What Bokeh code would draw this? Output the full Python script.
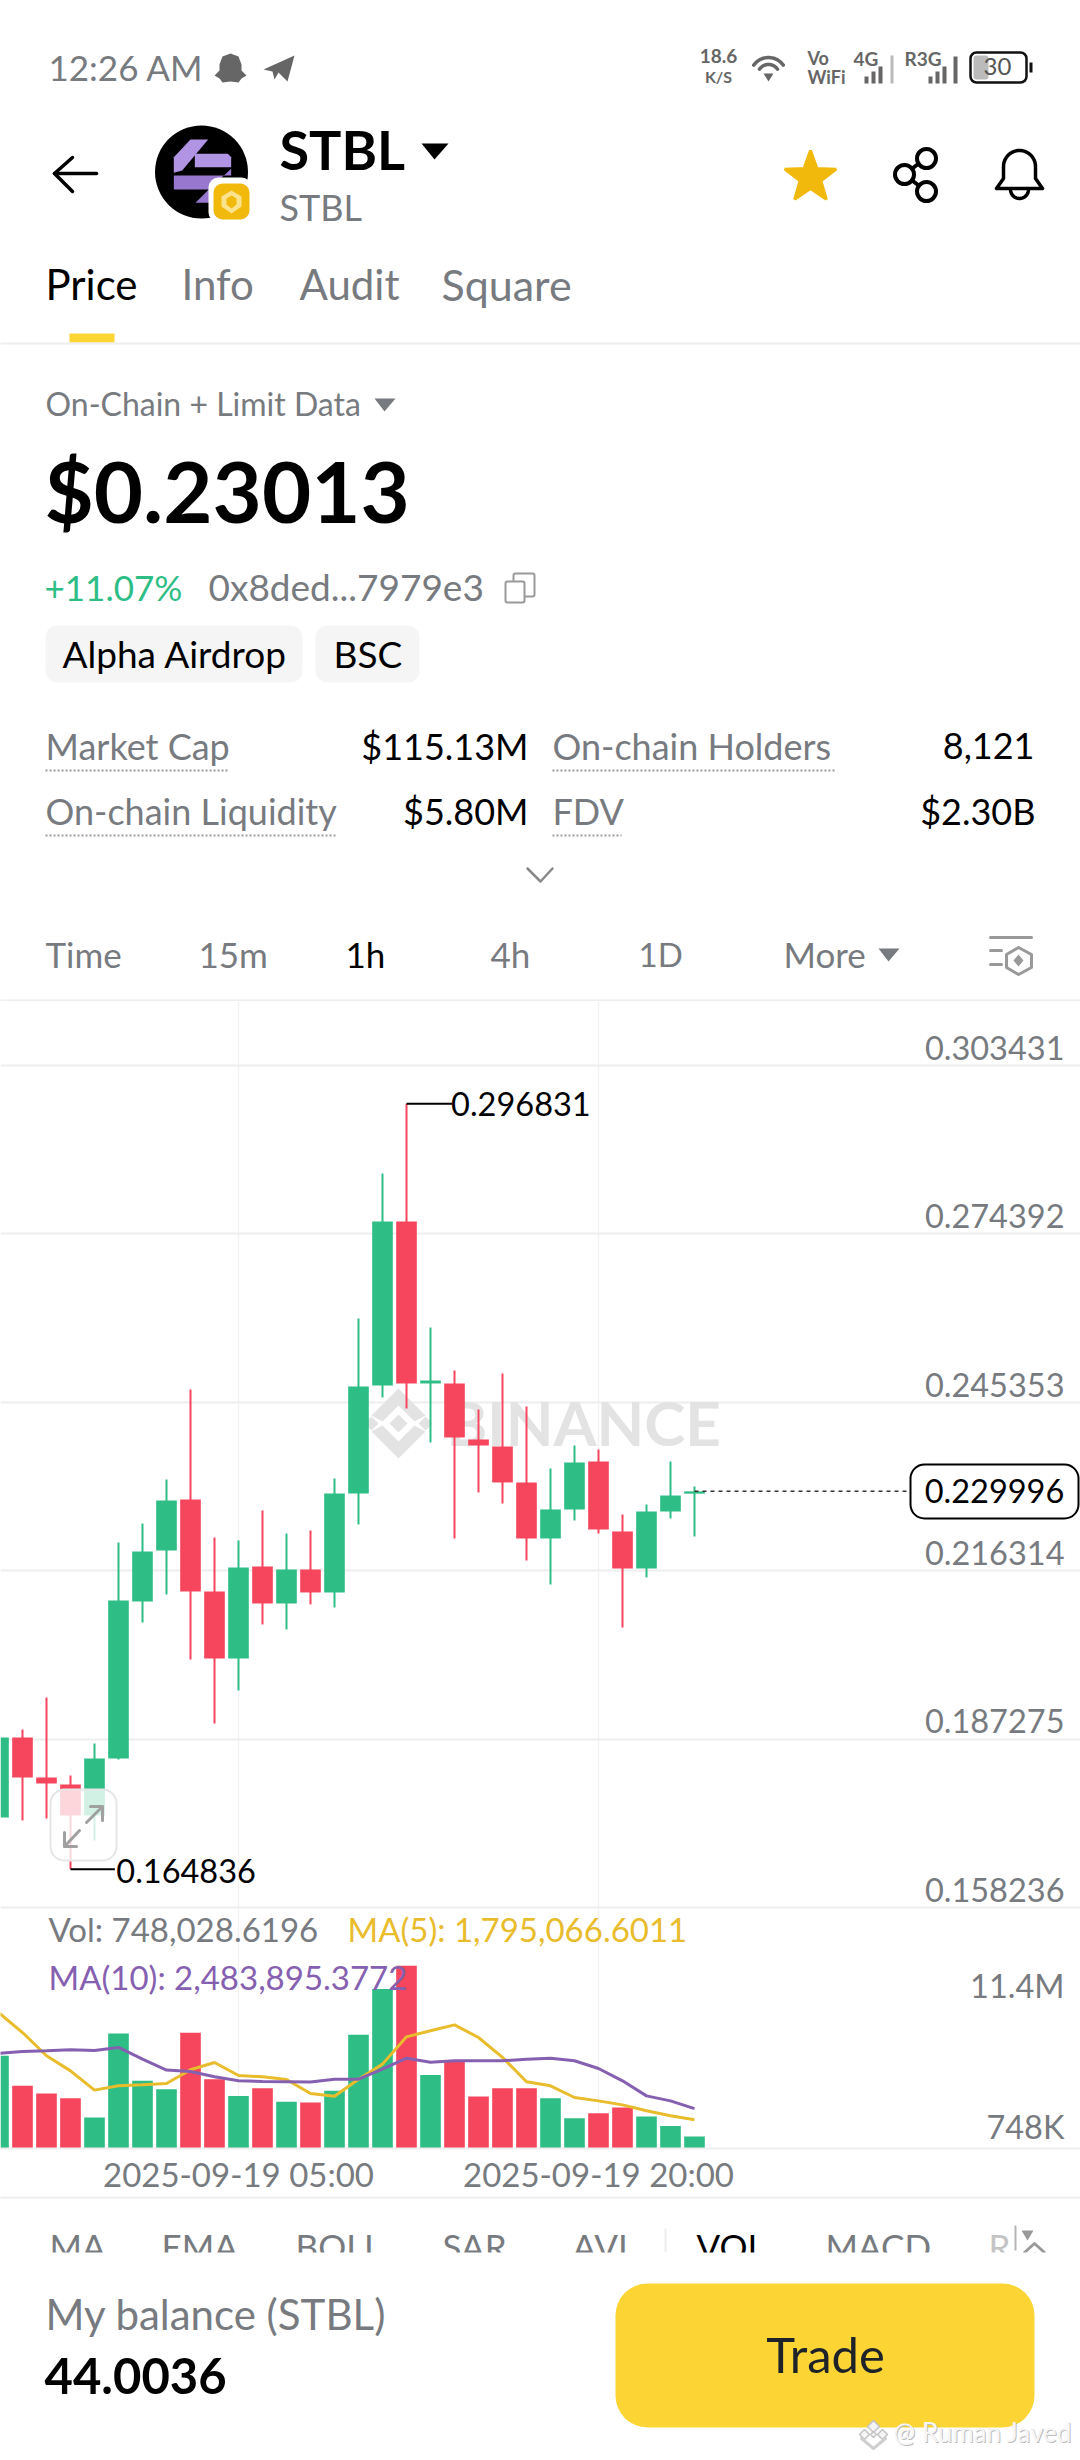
import numpy as np
from bokeh.core.properties import value
from bokeh.embed import file_html
from bokeh.layouts import column
from bokeh.models import FixedTicker, Range1d
from bokeh.plotting import figure
from bokeh.resources import INLINE

# ---------- data ----------
open_ = [.17376,.18755,.18066,.17945,.17410,.18393,.21101,.21980,.22859,.21273,
         .20117,.21704,.21066,.21652,.21256,.22963,.24825,.27653,.24860,.24860,
         .23894,.23773,.23153,.22187,.22687,.23515,.22308,.21669,.22652,.22960]
close = [.18755,.18066,.17962,.17410,.18393,.21118,.21963,.22842,.21273,.20117,
         .21687,.21066,.21652,.21256,.22963,.24808,.27653,.24860,.24911,.23928,
         .23790,.23153,.22187,.22687,.23497,.22342,.21669,.22652,.22928,.229996]
high = [.18755,.18893,.19445,.18100,.18652,.22118,.22446,.23204,.24756,.22204,
        .22152,.22670,.22273,.22325,.23221,.25980,.28481,.296831,.25825,.25084,
        .24411,.25032,.24463,.23394,.23790,.23722,.22601,.22773,.23515,.23084]
low = [.17376,.17324,.17358,.164836,.16979,.18376,.20738,.21221,.20100,.18997,
       .19566,.20704,.20617,.21049,.20997,.22428,.24618,.24428,.23842,.22187,
       .22980,.22790,.21807,.21393,.22497,.22273,.20652,.21515,.22532,.22221]
volume = [5.78,3.91,3.43,3.14,1.93,7.17,4.22,3.70,7.21,4.32,3.28,3.76,2.91,2.87,3.60,
          7.09,9.94,11.40,4.59,5.43,3.24,3.76,3.76,3.14,1.89,2.20,2.56,2.00,1.41,0.748]
ma5 = [8.48,7.23,5.78,4.84,3.64,3.91,3.97,4.05,4.91,5.36,4.55,4.47,4.30,3.43,3.26,
       4.32,5.26,6.96,7.34,7.71,6.92,5.68,4.16,3.91,3.18,2.97,2.72,2.35,2.04,1.795]
ma10 = [5.93,6.05,6.09,6.15,6.11,6.30,5.57,4.89,4.80,4.47,4.22,4.18,4.16,4.14,4.32,
        4.32,4.95,5.63,5.38,5.47,5.47,5.47,5.57,5.63,5.47,4.99,4.22,3.28,2.97,2.484]
price_ticks = [0.303431,0.274392,0.245353,0.216314,0.187275,0.158236]
time_ticks = [10,25]
time_labels = ["2025-09-19 05:00","2025-09-19 20:00"]
last_price = 0.229996

FONT = "Lato"
GREY = "#777b80"
LINE = "#eeeeee"
GREEN = "#2EBD85"
RED = "#F6465D"
YEL = "#FCD535"
GOLD = "#F0B90B"

idx = list(range(len(close)))
colors = [GREEN if c >= o else RED for o, c in zip(open_, close)]


def fig(w, h, xr, yr, **kw):
    p = figure(width=w, height=h, x_range=xr, y_range=yr, tools="", toolbar_location=None,
               output_backend="svg", x_axis_location=kw.pop("xloc", None), y_axis_location=None,
               min_border=0, min_border_left=0, min_border_right=0, min_border_top=0,
               min_border_bottom=kw.pop("mbb", 0), outline_line_color=None,
               background_fill_color="white", border_fill_color="white")
    p.xgrid.grid_line_color = None
    p.ygrid.grid_line_color = None
    return p


def T(p, x, y, s, size, color=GREY, align="left", style="normal", yo=0, xo=0, font=None):
    p.text([x], [y], text=[s], text_font=value(font or FONT), text_font_size=value(f"{size}px"),
           text_color=color, text_align=align, text_baseline="middle",
           text_font_style=style, y_offset=yo - size * 0.05, x_offset=xo)


def poly(p, pts, fill=None, line=None, lw=2, alpha=1.0):
    xs = [a for a, b in pts]
    ys = [b for a, b in pts]
    if fill:
        p.patch(xs, ys, fill_color=fill, fill_alpha=alpha, line_color=line, line_width=lw)
    else:
        p.line(xs, ys, line_color=line, line_width=lw, line_cap="round", line_join="round")


def arc(cx, cy, r, a0, a1, n=24, ry=None):
    ry = ry or r
    t = np.radians(np.linspace(a0, a1, n))
    return list(zip(cx + r*np.cos(t), cy + ry*np.sin(t)))


def box(p, l, r, t, b, fill=None, line=None, lw=2, rad=0, alpha=1.0):
    p.quad(left=[l], right=[r], top=[t], bottom=[b], fill_color=fill, fill_alpha=alpha,
           line_color=line, line_width=lw, border_radius=rad)


# ---------- header ----------
h = fig(1080, 1001, Range1d(0, 1080), Range1d(1001, 0))
T(h, 48, 68, "12:26 AM", 35)
poly(h, [(230,53),(238,56),(241,64),(241,70),(246,75),(241,78),(238,82),(230,81),(222,82),(219,78),(214,75),(219,70),(219,64),(222,56)], fill="#666666")
poly(h, [(263,69),(294,55),(287,81),(278,72),(274,79),(272,71)], fill="#666666")
T(h, 718, 56, "18.6", 19, "#666666", "center", "bold")
T(h, 718, 77, "K/S", 16, "#666666", "center", "bold")
for r, w in [(18, 3.5), (11, 3.5)]:
    poly(h, arc(768, 75, r, 215, 325), line="#666666", lw=w)
poly(h, [(763,73),(773,73),(768,81)], fill="#666666")
T(h, 807, 58, "Vo", 18, "#666666", "left", "bold")
T(h, 807, 77, "WiFi", 18, "#666666", "left", "bold")
T(h, 853, 59, "4G", 19, "#666666", "left", "bold")
for x0, tp in [(864,76),(871,71),(878,66)]:
    box(h, x0, x0+4, tp, 83, fill="#666666")
box(h, 890, 893, 55, 83, fill="#bbbbbb")
T(h, 904, 59, "R3G", 19, "#666666", "left", "bold")
for x0, tp in [(928,76),(935,71),(942,66),(953,56)]:
    box(h, x0, x0+4, tp, 83, fill="#666666")
box(h, 973, 988, 55, 79, fill="#bbbbbb", rad=3)
box(h, 970, 1026, 52, 82, line="#111111", lw=2.5, rad=6)
box(h, 1029, 1032, 62, 72, fill="#111111")
T(h, 997, 67, "30", 24, "#555555", "center")

# navigation row
poly(h, [(96,173),(54,173)], line="black", lw=3.5)
poly(h, [(72,157),(54,173),(72,191)], line="black", lw=3.5)
h.scatter([201],[171.5], marker="circle", size=93, fill_color="black", line_color=None)
S = lambda pts: [(140 + a/3, 115 + b/3) for a, b in pts]
poly(h, S([(150,72),(203,72),(125,165),(100,172),(100,125)]), fill="#B294E4")
poly(h, S([(163,115),(262,115),(272,125),(272,155),(163,155)]), fill="#B294E4")
poly(h, S([(100,180),(272,180),(272,160),(205,222),(100,222)]), fill="#9877CE")
poly(h, S([(165,262),(205,262),(262,205),(222,205)]), fill="#9877CE")
box(h, 208, 251, 177, 222, fill="white", rad=10)
box(h, 213, 249, 183, 219, fill=GOLD, rad=9)
poly(h, [(231,190),(241,196),(241,206),(231,213),(221,206),(221,196)], fill="#FBE38E")
poly(h, [(231,195),(236,198),(236,204),(231,208),(226,204),(226,198)], fill=GOLD)
T(h, 279, 152, "STBL", 54, "black", "left", "bold")
poly(h, [(421,143),(448,143),(434,159)], fill="black")
T(h, 279, 208, "STBL", 36)
# star
star = [(810 + (27 if i % 2 == 0 else 11)*np.sin(np.radians(36*i)),
         177 - (27 if i % 2 == 0 else 11)*np.cos(np.radians(36*i))) for i in range(10)]
poly(h, star, fill=GOLD, line=GOLD, lw=3)
# share
poly(h, [(926,157),(904,174),(926,191)], line="black", lw=4)
for cx, cy in [(926,158),(904,174),(926,191)]:
    h.scatter([cx],[cy], marker="circle", size=19, fill_color="white", line_color="black", line_width=4)
# bell
poly(h, [(996,188)] + [(1003,178)] + arc(1019,166,16,180,360) + [(1035,178),(1042,188),(996,188)], line="black", lw=3.5)
poly(h, arc(1019,189,9,10,170), line="black", lw=3.5)

T(h, 45, 286, "Price", 42, "black", style="normal")
T(h, 181, 286, "Info", 42)
T(h, 299, 286, "Audit", 42)
T(h, 441, 286, "Square", 43)
box(h, 69, 114, 333, 342, fill=YEL)
poly(h, [(0,343),(1080,343)], line=LINE, lw=2)

T(h, 45, 405, "On-Chain + Limit Data", 32)
poly(h, [(374,398),(395,398),(384,411)], fill=GREY)
T(h, 44, 494, "$0.23013", 85, "black", style="bold")
T(h, 44, 588, "+11.07%", 35, GREEN)
T(h, 208, 588, "0x8ded...7979e3", 37)
box(h, 513, 534, 573, 596, line="#999999", lw=2, rad=2)
box(h, 505, 524, 581, 602, fill="white", line="#999999", lw=2, rad=2)
box(h, 45, 302, 625, 682, fill="#F5F5F5", rad=12)
box(h, 315, 419, 625, 682, fill="#F5F5F5", rad=12)
T(h, 62, 655, "Alpha Airdrop", 37, "black")
T(h, 333, 655, "BSC", 37, "black")

for x, y, s, a in [(45,747,"Market Cap","l"),(528,747,"$115.13M","r"),(552,747,"On-chain Holders","l"),(1034,747,"8,121","r"),
                   (45,812,"On-chain Liquidity","l"),(528,812,"$5.80M","r"),(552,812,"FDV","l"),(1035,812,"$2.30B","r")]:
    if a == "l":
        T(h, x, y, s, 36)
    else:
        T(h, x, y, s, 36, "black", "right", "normal")
for x0, x1, y in [(45,227,770),(552,836,770),(45,336,835),(552,621,835)]:
    h.line([x0,x1],[y,y], line_color="#9a9a9a", line_width=2, line_dash="2 2")
poly(h, [(527,868),(540,881),(552,868)], line="#888888", lw=2.5)

for x, s, col, sz in [(45,"Time",GREY,35),(198,"15m",GREY,35),(345,"1h","black",35),(490,"4h",GREY,35),(638,"1D",GREY,33),(783,"More",GREY,35)]:
    T(h, x, 955, s, sz, col)
poly(h, [(878,948),(899,948),(888,961)], fill=GREY)
poly(h, [(990,937),(1031,937)], line="#999999", lw=3)
poly(h, [(990,950),(1001,950)], line="#999999", lw=3)
poly(h, [(990,964),(1001,964)], line="#999999", lw=3)
poly(h, [(1018,947),(1031,954),(1031,967),(1018,974),(1006,967),(1006,954),(1018,947)], line="#999999", lw=3)
poly(h, [(1018,954),(1023,960),(1018,966),(1013,960)], fill="#999999")
poly(h, [(0,1000),(1080,1000)], line=LINE, lw=2)

# ---------- price panel ----------
PX = 5799.0
def Y(py):
    return 0.303431 - (py - 1065) / PX
def X(px):
    return (px + 2) / 24.0

c = fig(1080, 908, Range1d(X(0), X(1080)), Range1d(Y(1909), Y(1001)))
c.ygrid.ticker = FixedTicker(ticks=price_ticks)
c.ygrid.grid_line_color = LINE
c.ygrid.grid_line_width = 2
c.xgrid.ticker = FixedTicker(ticks=time_ticks)
c.xgrid.grid_line_color = "#f2f2f2"
c.xgrid.grid_line_width = 1.5

# watermark, beneath the candles
WM = "#e3e3e3"
lx, ly = 398, 1423
def wm(pts):
    poly(c, [(X(lx + a), Y(ly + b)) for a, b in pts], fill=WM)
wm([(0,-35),(27,-8),(16,-2),(0,-18),(-16,-2),(-27,-8)])
wm([(0,35),(27,8),(16,2),(0,18),(-16,2),(-27,8)])
wm([(0,-9),(9,0),(0,9),(-9,0)])
wm([(-27,-7),(-20,0),(-27,7),(-34,0)])
wm([(27,-7),(20,0),(27,7),(34,0)])
T(c, X(446), Y(1425), "BINANCE", 62, WM, style="bold")

c.segment(idx, high, idx, low, line_color=colors, line_width=2)
c.vbar(x=idx, top=[max(a, b) for a, b in zip(open_, close)], bottom=[min(a, b) for a, b in zip(open_, close)],
       width=0.86, fill_color=colors, line_color=None)

for t in price_ticks:
    T(c, X(1064), t, f"{t:.6f}", 32.5, GREY, "right", yo=-16)

# high / low callouts, taken from the data
imax = int(np.argmax(high))
imin = int(np.argmin(low))
c.segment([imax], [high[imax]], [imax + 1.9], [high[imax]], line_color="black", line_width=2)
T(c, imax + 1.9, high[imax], f"{high[imax]:.6f}", 32.5, "black", yo=2, xo=-1)
c.segment([imin], [low[imin]], [imin + 1.85], [low[imin]], line_color="black", line_width=2)
T(c, imin + 1.95, low[imin], f"{low[imin]:.6f}", 32.5, "black", yo=3, xo=-1)

# last price
c.segment([idx[-1]], [last_price], [X(908)], [last_price], line_color="#333333", line_width=1.5, line_dash="4 4")
box(c, X(910), X(1078), Y(1464), Y(1518), fill="white", line="black", lw=2, rad=14)
T(c, X(994), last_price, f"{last_price:.6f}", 32.5, "black", "center", yo=1)

# expand button
box(c, X(50), X(116), Y(1789), Y(1860), fill="white", line="#e6e6e6", lw=2, rad=14, alpha=0.78)
ar = lambda pts: [(X(a), Y(b)) for a, b in pts]
poly(c, ar([(79,1830),(64,1846)]), line="#a0a0a0", lw=3)
poly(c, ar([(64,1832),(64,1846),(76,1846)]), line="#a0a0a0", lw=3)
poly(c, ar([(86,1822),(102,1806)]), line="#a0a0a0", lw=3)
poly(c, ar([(90,1806),(102,1806),(102,1820)]), line="#a0a0a0", lw=3)

# ---------- volume panel ----------
VS = 16.04
v = fig(1080, 287, Range1d(X(0), X(1080)), Range1d(0, (2148 - 1909) / VS), xloc="below", mbb=48)
v.xgrid.ticker = FixedTicker(ticks=time_ticks)
v.xgrid.grid_line_color = "#f2f2f2"
v.xgrid.grid_line_width = 1.5
ax = v.xaxis[0]
ax.ticker = FixedTicker(ticks=time_ticks)
ax.major_label_overrides = dict(zip(time_ticks, time_labels))
ax.major_tick_in = 0
ax.major_tick_out = 0
ax.minor_tick_in = 0
ax.minor_tick_out = 0
ax.axis_line_color = LINE
ax.axis_line_width = 2
ax.major_label_text_font = FONT
ax.major_label_text_font_size = "33px"
ax.major_label_text_color = GREY
ax.major_label_standoff = 5

v.vbar(x=idx, top=volume, bottom=0, width=0.86, fill_color=colors, line_color=None)
v.line(idx, ma5, line_color="#E8BC2C", line_width=3)
v.line(idx, ma10, line_color="#8660B0", line_width=3)
VY = lambda py: (2148 - py) / VS
T(v, X(48), VY(1930), "Vol: 748,028.6196", 33)
T(v, X(347), VY(1930), "MA(5): 1,795,066.6011", 33, "#E8BC2C")
T(v, X(48), VY(1978), "MA(10): 2,483,895.3772", 33, "#8660B0")
T(v, X(1064), VY(1987), "11.4M", 32.5, GREY, "right")
T(v, X(1064), VY(2128), "748K", 32.5, GREY, "right")

# ---------- footer ----------
f = fig(1080, 264, Range1d(0, 1080), Range1d(2460, 2196))
poly(f, [(0,2197),(1080,2197)], line=LINE, lw=2)
for x, s, col in [(49,"MA",GREY),(161,"EMA",GREY),(295,"BOLL",GREY),(442,"SAR",GREY),(572,"AVL",GREY),
                  (696,"VOL","black"),(825,"MACD",GREY),(988,"RSI","#c4c4c4")]:
    T(f, x, 2247, s, 35, col)
box(f, 664, 666, 2228, 2252, fill="#eeeeee")
box(f, 1010, 1080, 2220, 2252, fill="white")
box(f, 1014, 1016, 2225, 2250, fill="#b5b5b5")
poly(f, [(1021,2230),(1033,2230),(1027,2240)], fill="#999999")
poly(f, [(1024,2252),(1034,2243),(1044,2252)], line="#999999", lw=3)
box(f, 0, 1080, 2252, 2460, fill="white")
T(f, 45, 2316, "My balance (STBL)", 42)
T(f, 44, 2378, "44.0036", 49, "black", style="bold")
box(f, 615, 1034, 2283, 2427, fill=YEL, rad=32)
T(f, 825, 2356, "Trade", 49, "#1E2329", "center")
for dx, dy, r in [(0,-8,6),(-9,0,5),(9,0,5),(0,0,3)]:
    poly(f, [(873+dx,2434+dy-r),(873+dx+r,2434+dy),(873+dx,2434+dy+r),(873+dx-r,2434+dy)], fill="#f4f4f4", line="#c4c4c4", lw=1.5)
poly(f, [(861,2438),(873,2448),(885,2438)], line="#cfcfcf", lw=3)
T(f, 893, 2433, "@ Ruman Javed", 26, "#bdbdbd", xo=1, yo=1)
T(f, 893, 2433, "@ Ruman Javed", 26, "#f6f6f6")

layout = column(h, c, v, f, spacing=0)
open("out.html", "w").write(file_html(layout, INLINE))
